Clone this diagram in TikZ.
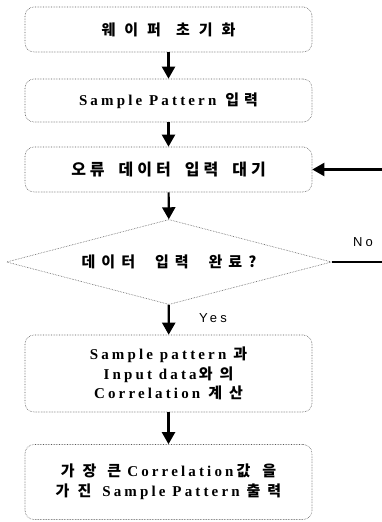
\documentclass[tikz,border=0pt]{standalone}
\usepackage{fontspec}
\setmainfont{Liberation Serif}[LetterSpace=21]
\newfontfamily\kr{Noto Sans CJK KR}
\newfontfamily\yn{Liberation Sans}[LetterSpace=25]
\newlength\kgap
\setlength\kgap{8pt}
\newcommand\ko[1]{{\kr\bfseries #1}}
\newcommand\g{\hspace{\kgap}}
\newcommand\gap[1]{\hspace{#1pt}}
\usetikzlibrary{arrows.meta,positioning,shapes.geometric}
\tikzset{
  hangul gap/.code={\setlength\kgap{#1}},
  box/.style={draw=black!65, densely dotted, line width=0.6pt, rounded corners=9pt,
    minimum width=287pt, align=center, font=\fontsize{15}{19.5}\selectfont\bfseries},
  decision/.style={diamond, aspect=3.82, draw=black!65, densely dotted, line width=0.6pt,
    minimum width=325pt, minimum height=85pt, inner sep=0pt, font=\fontsize{15}{17}\selectfont},
  flow/.style={line width=2.2pt, -{Triangle[length=12pt,width=13pt]}},
  answer/.style={font=\yn\fontsize{13}{15}\selectfont},
}
\begin{document}
\begin{tikzpicture}[x=1pt,y=-1pt]
      \useasboundingbox (0,0) rectangle (382,522);
      \node[box,minimum height=45pt,hangul gap=9pt] (init) at (168.5,29.5)
        {\ko{웨\g 이\g 퍼}\gap{15}\ko{초\g 기\g 화}};
      \node[box,minimum height=43pt,hangul gap=5pt] (sample) at (168.5,100.5)
        {Sample Pattern\gap{9}\ko{입\g 력}};
      \node[box,minimum height=45pt,hangul gap=4pt,font=\fontsize{16}{19}\selectfont] (wait) at (168.5,169.5)
        {\ko{오\g 류}\gap{14}\ko{데\g 이\g 터}\gap{14}\ko{입\g 력}\gap{14}\ko{대\g 기}};
      \node[decision,hangul gap=6pt] (done) at (169,262)
        {\ko{데\g 이\g 터}\gap{20}\ko{입\g 력}\gap{20}\ko{완\g 료\g ?}};
      \node[box,minimum height=77pt,hangul gap=7pt] (corr) at (168.5,373.5)
        {Sample pattern\gap{7}\ko{과}\\Input data\gap{2}\ko{와\g 의}\\Correlation\gap{8}\ko{계\g 산}};
      \node[box,minimum height=75pt,text depth=4pt] (result) at (168.5,482)
        {\ko{가}\gap{8}\ko{장}\gap{11}\ko{큰}\gap{6}Correlation\gap{3}\ko{값}\gap{12}\ko{을}\\
         \ko{가}\gap{8}\ko{진}\gap{11}Sample Pattern\gap{7}\ko{출}\gap{7}\ko{력}};
      \node[answer] (yes) at (213,318) {Yes};
      \node[answer] (no) at (363,242) {No};
    
      \draw[flow] (init) -- (sample);
      \draw[flow] (sample) -- (wait);
      \draw[flow] (wait) -- (done);
      \draw[flow] (done) -- (corr);
      \draw[flow] (corr) -- (result);
      \draw[flow] (done.east) -- ++(60,0) |- (wait.east);
    \end{tikzpicture}
\end{document}
